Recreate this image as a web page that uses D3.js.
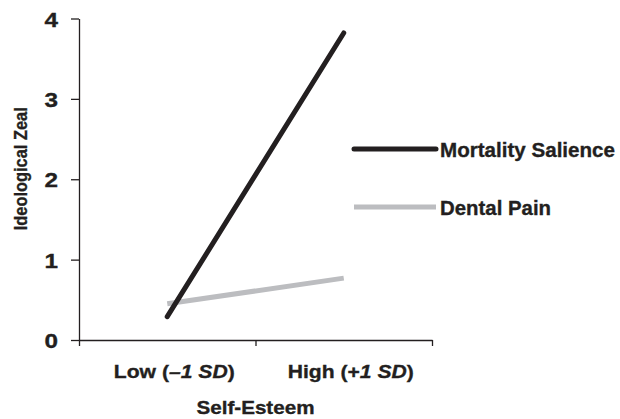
<!DOCTYPE html>
<html>
<head>
<meta charset="utf-8">
<script src="https://cdn.jsdelivr.net/npm/d3@7"></script>
<style>
  body { margin: 0; background: #fff; }
  svg { display: block; font-family: "Liberation Sans", Arial, Helvetica, sans-serif; }
  text { font-weight: bold; fill: #231f20; stroke: #231f20; stroke-width: 0.35px; }
</style>
</head>
<body>
<svg id="chart" width="620" height="419"></svg>
<script>
// ---- data ----
const categories = ["Low", "High"];
const categoryLabels = [
  [{t: "Low (", i: false}, {t: "\u20131 SD", i: true}, {t: ")", i: false}],
  [{t: "High (+", i: false}, {t: "1 SD", i: true}, {t: ")", i: false}]
];
const seriesNames = ["Mortality Salience", "Dental Pain"];
const mortalitySalience = [0.29, 3.82];
const dentalPain = [0.45, 0.77];
const yTicks = [0, 1, 2, 3, 4];
const xTitle = "Self-Esteem";
const yTitle = "Ideological Zeal";

const seriesColors = ["#231f20", "#bcbdc0"];
const series = [
  {name: seriesNames[0], values: mortalitySalience, color: seriesColors[0]},
  {name: seriesNames[1], values: dentalPain, color: seriesColors[1]}
];

const svg = d3.select("#chart");
const mLeft = 79, mRight = 432, mTop = 18.5, mBottom = 340;
const fontFam = "'Liberation Sans', Arial, sans-serif";

const x = d3.scaleBand().domain(categories).range([mLeft, mRight]).padding(0);
const xEdge = d3.scaleLinear().domain([0, categories.length]).range([mLeft, mRight]);
const y = d3.scaleLinear().domain([0, 4]).range([mBottom, mTop]);

// y axis
const yAxis = svg.append("g").attr("transform", `translate(${mLeft},0)`)
  .call(d3.axisLeft(y).tickValues(yTicks).tickSize(8).tickSizeOuter(0).tickFormat(d3.format("d")));
yAxis.select(".domain").attr("stroke", "#231f20").attr("stroke-width", 1.3);
yAxis.selectAll(".tick line").attr("stroke", "#231f20").attr("stroke-width", 1.3);
yAxis.selectAll(".tick text")
  .attr("x", -21).attr("dy", "0.36em")
  .style("font-size", "21px").style("font-family", fontFam)
  .attr("fill", "#231f20")
  .attr("textLength", 13.5).attr("lengthAdjust", "spacingAndGlyphs");

// x axis
const xAxis = svg.append("g").attr("transform", `translate(0,${mBottom})`)
  .call(d3.axisBottom(xEdge).tickValues(d3.range(categories.length + 1)).tickSize(6).tickSizeOuter(0).tickFormat(""));
xAxis.select(".domain").attr("stroke", "#231f20").attr("stroke-width", 1.3);
xAxis.selectAll(".tick line").attr("stroke", "#231f20").attr("stroke-width", 1.3);

// category labels
const labelWidths = [121, 126];
categories.forEach((c, k) => {
  const t = svg.append("text")
    .attr("x", x(c) + x.bandwidth() / 2 + 7)
    .attr("y", 378)
    .attr("text-anchor", "middle")
    .style("font-size", "19px")
    .attr("textLength", labelWidths[k]).attr("lengthAdjust", "spacingAndGlyphs");
  categoryLabels[k].forEach(p => {
    t.append("tspan").text(p.t).style("font-style", p.i ? "italic" : "normal");
  });
});

// x title
svg.append("text")
  .attr("x", (mLeft + mRight) / 2).attr("y", 413.5)
  .attr("text-anchor", "middle")
  .style("font-size", "19px")
  .attr("textLength", 118).attr("lengthAdjust", "spacingAndGlyphs")
  .text(xTitle);

// y title
svg.append("text")
  .attr("transform", `translate(27,${(mTop + mBottom) / 2 - 10.5}) rotate(-90)`)
  .attr("text-anchor", "middle")
  .style("font-size", "19px")
  .attr("textLength", 123).attr("lengthAdjust", "spacingAndGlyphs")
  .text(yTitle);

// lines
const line = d3.line()
  .x((d, i) => x(categories[i]) + x.bandwidth() / 2)
  .y(d => y(d));

series.slice().reverse().forEach(s => {
  svg.append("path")
    .datum(s.values)
    .attr("d", line)
    .attr("fill", "none")
    .attr("stroke", s.color)
    .attr("stroke-width", 5)
    .attr("stroke-linecap", s.color === seriesColors[0] ? "round" : "butt");
});

// legend
const legendY = [149, 207];
const legendWidths = [175, 111];
series.forEach((s, i) => {
  svg.append("line")
    .attr("x1", 354).attr("x2", 436)
    .attr("y1", legendY[i]).attr("y2", legendY[i])
    .attr("stroke", s.color).attr("stroke-width", 5)
    .attr("stroke-linecap", i === 0 ? "round" : "butt");
  svg.append("text")
    .attr("x", 440).attr("y", legendY[i] + 7.5)
    .style("font-size", "20.5px")
    .attr("textLength", legendWidths[i]).attr("lengthAdjust", "spacingAndGlyphs")
    .text(s.name);
});
</script>
</body>
</html>
